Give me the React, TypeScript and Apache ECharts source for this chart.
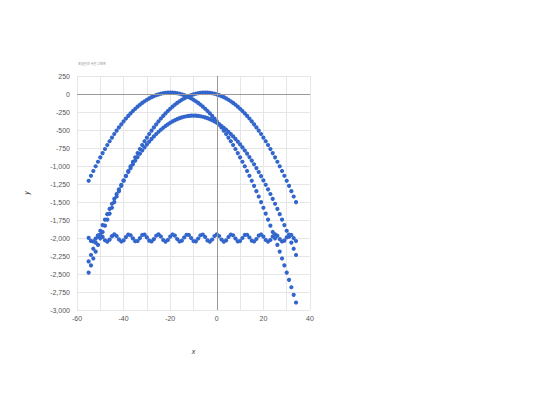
import React, { useEffect, useRef } from "react";
import * as echarts from "echarts";

const xValues = [
  -55, -54, -53, -52, -51, -50, -49, -48, -47, -46, -45, -44, -43, -42, -41, -40, -39, -38,
  -37, -36, -35, -34, -33, -32, -31, -30, -29, -28, -27, -26, -25, -24, -23, -22, -21, -20,
  -19, -18, -17, -16, -15, -14, -13, -12, -11, -10, -9, -8, -7, -6, -5, -4, -3, -2, -1, 0,
  1, 2, 3, 4, 5, 6, 7, 8, 9, 10, 11, 12, 13, 14, 15, 16, 17, 18, 19, 20, 21, 22, 23, 24,
  25, 26, 27, 28, 29, 30, 31, 32, 33, 34,
];

// arch peaking near x = -20
const archLeft = [
  -1205, -1136, -1069, -1004, -941, -880, -821, -764, -709, -656, -605, -556, -509, -464,
  -421, -380, -341, -304, -269, -236, -205, -176, -149, -124, -101, -80, -61, -44, -29, -16,
  -5, 4, 11, 16, 19, 20, 19, 16, 11, 4, -5, -16, -29, -44, -61, -80, -101, -124, -149, -176,
  -205, -236, -269, -304, -341, -380, -421, -464, -509, -556, -605, -656, -709, -764, -821,
  -880, -941, -1004, -1069, -1136, -1205, -1276, -1349, -1424, -1501, -1580, -1661, -1744,
  -1829, -1916, -2005, -2096, -2189, -2284, -2381, -2480, -2581, -2684, -2789, -2896,
];

// arch peaking near x = -5
const archRight = [
  -2480, -2381, -2284, -2189, -2096, -2005, -1916, -1829, -1744, -1661, -1580, -1501, -1424,
  -1349, -1276, -1205, -1136, -1069, -1004, -941, -880, -821, -764, -709, -656, -605, -556,
  -509, -464, -421, -380, -341, -304, -269, -236, -205, -176, -149, -124, -101, -80, -61,
  -44, -29, -16, -5, 4, 11, 16, 19, 20, 19, 16, 11, 4, -5, -16, -29, -44, -61, -80, -101,
  -124, -149, -176, -205, -236, -269, -304, -341, -380, -421, -464, -509, -556, -605, -656,
  -709, -764, -821, -880, -941, -1004, -1069, -1136, -1205, -1276, -1349, -1424, -1501,
];

// lower arch, top at about -300
const archLow = [
  -2325, -2236, -2149, -2064, -1981, -1900, -1821, -1744, -1669, -1596, -1525, -1456, -1389,
  -1324, -1261, -1200, -1141, -1084, -1029, -976, -925, -876, -829, -784, -741, -700, -661,
  -624, -589, -556, -525, -496, -469, -444, -421, -400, -381, -364, -349, -336, -325, -316,
  -309, -304, -301, -300, -301, -304, -309, -316, -325, -336, -349, -364, -381, -400, -421,
  -444, -469, -496, -525, -556, -589, -624, -661, -700, -741, -784, -829, -876, -925, -976,
  -1029, -1084, -1141, -1200, -1261, -1324, -1389, -1456, -1525, -1596, -1669, -1744, -1821,
  -1900, -1981, -2064, -2149, -2236,
];

// wave around -2000
const wave = [
  -1999, -2041, -2046, -2008, -1963, -1952, -1985, -2032, -2050, -2022, -1974, -1950, -1972,
  -2020, -2049, -2033, -1987, -1952, -1962, -2006, -2045, -2042, -2001, -1958, -1954, -1992,
  -2037, -2048, -2015, -1968, -1950, -1979, -2027, -2050, -2027, -1980, -1951, -1967, -2014,
  -2048, -2038, -1993, -1955, -1958, -2000, -2042, -2046, -2007, -1962, -1952, -1986, -2033,
  -2050, -2021, -1973, -1950, -1973, -2021, -2050, -2033, -1986, -1952, -1962, -2007, -2046,
  -2042, -2000, -1958, -1955, -1993, -2038, -2048, -2014, -1967, -1951, -1980, -2027, -2050,
  -2027, -1979, -1950, -1968, -2015, -2048, -2037, -1992, -1954, -1958, -2001, -2042,
];

const seriesList = [archLeft, archRight, archLow, wave];

const App: React.FC = () => {
  const chartRef = useRef<HTMLDivElement>(null);

  useEffect(() => {
    if (!chartRef.current) return;
    document.body.style.margin = "0";

    const myChart = echarts.init(chartRef.current, undefined, { renderer: "svg" });

    const labelStyle = { color: "#555", fontSize: 7, fontFamily: "Arial, 'Liberation Sans'" };
    const gridLine = { show: true, lineStyle: { color: "#e6e6e6", width: 1 } };

    const option: echarts.EChartsOption = {
      animation: false,
      backgroundColor: "#fff",
      title: {
        text: "포물선과 사인 그래프",
        left: 73,
        top: 57,
        textStyle: {
          color: "#888",
          fontSize: 3.2,
          fontWeight: "normal",
          fontFamily: "'Noto Sans CJK KR'",
        },
      },
      grid: { left: 77, right: 230, top: 76, bottom: 95 },
      xAxis: {
        type: "value",
        min: -60,
        max: 40,
        interval: 10,
        name: "x",
        nameLocation: "middle",
        nameGap: 38,
        nameTextStyle: { color: "#333", fontSize: 7, fontStyle: "italic", fontFamily: "Arial" },
        axisLine: { show: false },
        axisTick: { show: false },
        splitLine: gridLine,
        axisLabel: {
          ...labelStyle,
          margin: 5,
          formatter: (v: number) => (v % 20 === 0 ? String(v) : ""),
        },
      },
      yAxis: {
        type: "value",
        min: -3000,
        max: 250,
        interval: 250,
        name: "y",
        nameLocation: "middle",
        nameGap: 47,
        nameTextStyle: { color: "#333", fontSize: 7, fontStyle: "italic", fontFamily: "Arial" },
        axisLine: { show: false },
        axisTick: { show: false },
        splitLine: gridLine,
        axisLabel: {
          ...labelStyle,
          margin: 7,
          formatter: (v: number) => v.toLocaleString("en-US"),
        },
      },
      series: seriesList.map((ys, i) => ({
        type: "scatter" as const,
        symbol: "circle",
        symbolSize: 4.2,
        itemStyle: { color: "#3366cc", opacity: 1 },
        data: xValues.map((x, j) => [x, ys[j]]),
        markLine:
          i === 0
            ? {
                silent: true,
                symbol: "none",
                label: { show: false },
                lineStyle: { color: "#999", width: 1, type: "solid" },
                data: [{ xAxis: 0 }, { yAxis: 0 }],
              }
            : undefined,
        z: 3,
      })),
    };

    myChart.setOption(option);

    return () => {
      myChart.dispose();
    };
  }, []);

  return <div ref={chartRef} style={{ width: 540, height: 405 }} />;
};

export default App;
